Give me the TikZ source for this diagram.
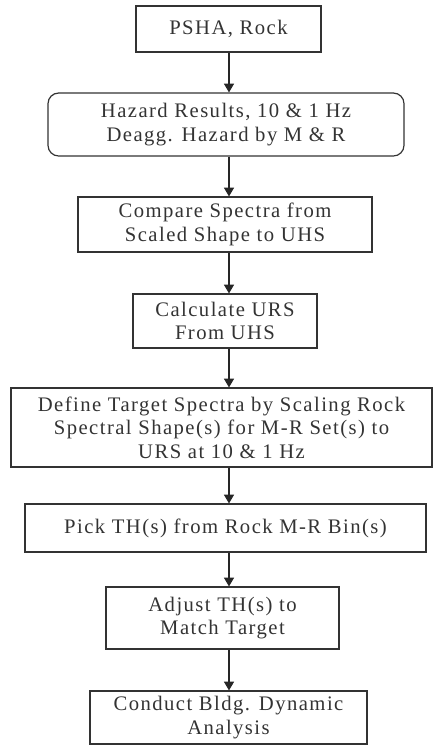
\documentclass[tikz,border=0pt]{standalone}
\usepackage{fontspec}
\setmainfont[LetterSpace=7]{Liberation Serif}
\usetikzlibrary{arrows.meta}
\definecolor{ink}{HTML}{333333}
\tikzset{
  box/.style={draw=ink, line width=0.9pt, text=ink, align=center, inner sep=0pt,
    font=\fontsize{15.5}{17.6}\selectfont},
  rbox/.style={box, rounded corners=8pt},
  arr/.style={draw=black!85, line width=0.8pt, -{Triangle[width=7.5pt,length=6.5pt]}}
}
\begin{document}
\begin{tikzpicture}[x=0.75pt,y=-0.75pt]
\useasboundingbox (0,0) rectangle (433,747);
\node[box, minimum width=138.75pt, minimum height=34.5pt] (b1) at (228.5,29) {PSHA, Rock};
\node[rbox, minimum width=267pt, minimum height=47.25pt] (b2) at (226,124.5) {Hazard Results, 10 \& 1 Hz\\Deagg. Hazard by M \& R};
\node[box, minimum width=220.5pt, minimum height=41.25pt] (b3) at (225,224.5) {Compare Spectra from\\Scaled Shape to UHS};
\node[box, minimum width=138pt, minimum height=40.5pt] (b4) at (225,321) {Calculate URS\\From UHS};
\node[box, minimum width=315.75pt, minimum height=59.25pt] (b5) at (221.5,427.5) {Define Target Spectra by Scaling Rock\\Spectral Shape(s) for M-R Set(s) to\\URS at 10 \& 1 Hz};
\node[box, minimum width=300.75pt, minimum height=36pt] (b6) at (225.5,528) {Pick TH(s) from Rock M-R Bin(s)};
\node[box, minimum width=174.75pt, minimum height=46.5pt] (b7) at (222.5,618) {Adjust TH(s) to\\Match Target};
\node[box, minimum width=207.75pt, minimum height=39.75pt] (b8) at (228.5,717.5) {Conduct Bldg. Dynamic\\Analysis};
\coordinate (ax) at (229,0);
\draw[arr] (b1.south -| ax) -- (b2.north -| ax);
\draw[arr] (b2.south -| ax) -- (b3.north -| ax);
\draw[arr] (b3.south -| ax) -- (b4.north -| ax);
\draw[arr] (b4.south -| ax) -- (b5.north -| ax);
\draw[arr] (b5.south -| ax) -- (b6.north -| ax);
\draw[arr] (b6.south -| ax) -- (b7.north -| ax);
\draw[arr] (b7.south -| ax) -- (b8.north -| ax);
\end{tikzpicture}
\end{document}
